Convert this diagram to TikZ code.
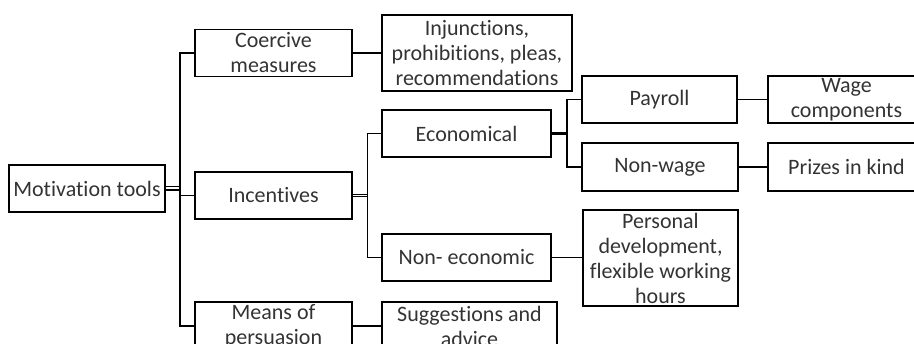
\documentclass[tikz,border=0pt]{standalone}
\usepackage{fontspec}
\setmainfont{Carlito}[Ligatures=NoCommon]
\usepackage{tikz}
\usetikzlibrary{calc}
\tikzset{box/.style={draw=black, line width=1.1pt, text=black!80, align=center, inner sep=1pt,
    minimum width=#1, minimum height=47pt, font=\fontsize{22}{25}\selectfont}}
\tikzset{link/.style={draw=black, line width=1.1pt}}

\begin{document}
\begin{tikzpicture}[x=1pt, y=-1pt]
\useasboundingbox (0,0) rectangle (914,344);
\clip (0,0) rectangle (914,344);
\node[box=156pt] (mot) at (87,188.5) {Motivation tools};
\node[box=157pt] (coer) at (273.5,53) {Coercive\\measures};
\node[box=157pt] (inc) at (273.5,195.5) {Incentives};
\node[box=157pt, minimum height=48pt] (means) at (273.5,326) {Means of\\persuasion};
\node[box=190pt, minimum height=76pt] (inj) at (477,53) {Injunctions,\\prohibitions, pleas,\\recommendations};
\node[box=169pt] (econ) at (466.5,133.5) {Economical};
\node[box=169pt] (noneco) at (466.5,257.5) {Non- economic};
\node[box=175pt, minimum height=48pt] (sugg) at (469.5,326) {Suggestions and\\advice};
\node[box=155pt] (pay) at (659.5,99.5) {Payroll};
\node[box=156pt, minimum height=48pt] (nonwage) at (660,167) {Non-wage};
\node[box=155pt, minimum height=96pt] (pers) at (660.5,258) {Personal\\development,\\flexible working\\hours};
\node[box=157pt] (wage) at (846.5,99.5) {Wage\\components};
\node[box=157pt, minimum height=48pt] (prize) at (846.5,167) {Prizes in kind};
% trunks
\coordinate (t1) at (180,190);
\coordinate (t2) at (367.5,196);
\coordinate (t3) at (567,134);
\draw[link, double, double distance=2pt] (mot.east) -- (mot.east -| t1);
\draw[link] (coer.west) -| (t1) |- (means.west);
\draw[link] (t1 |- inc.west) -- (inc.west);
\draw[link, double, double distance=1.5pt] (inc.east) -- (inc.east -| t2);
\draw[link] (econ.west) -| (t2) |- (noneco.west);
\draw[link, line width=2.6pt] (econ.east) -- (econ.east -| t3);
\draw[link] (pay.west) -| (t3) |- (nonwage.west);
% leaves
\draw[link] (coer.east) -- (coer.east -| inj.west);
\draw[link] (means.east) -- (sugg.west);
\draw[link] (noneco.east) -- (noneco.east -| pers.west);
\draw[link] (pay.east) -- (wage.west);
\draw[link] (nonwage.east) -- (prize.west);
\end{tikzpicture}
\end{document}
